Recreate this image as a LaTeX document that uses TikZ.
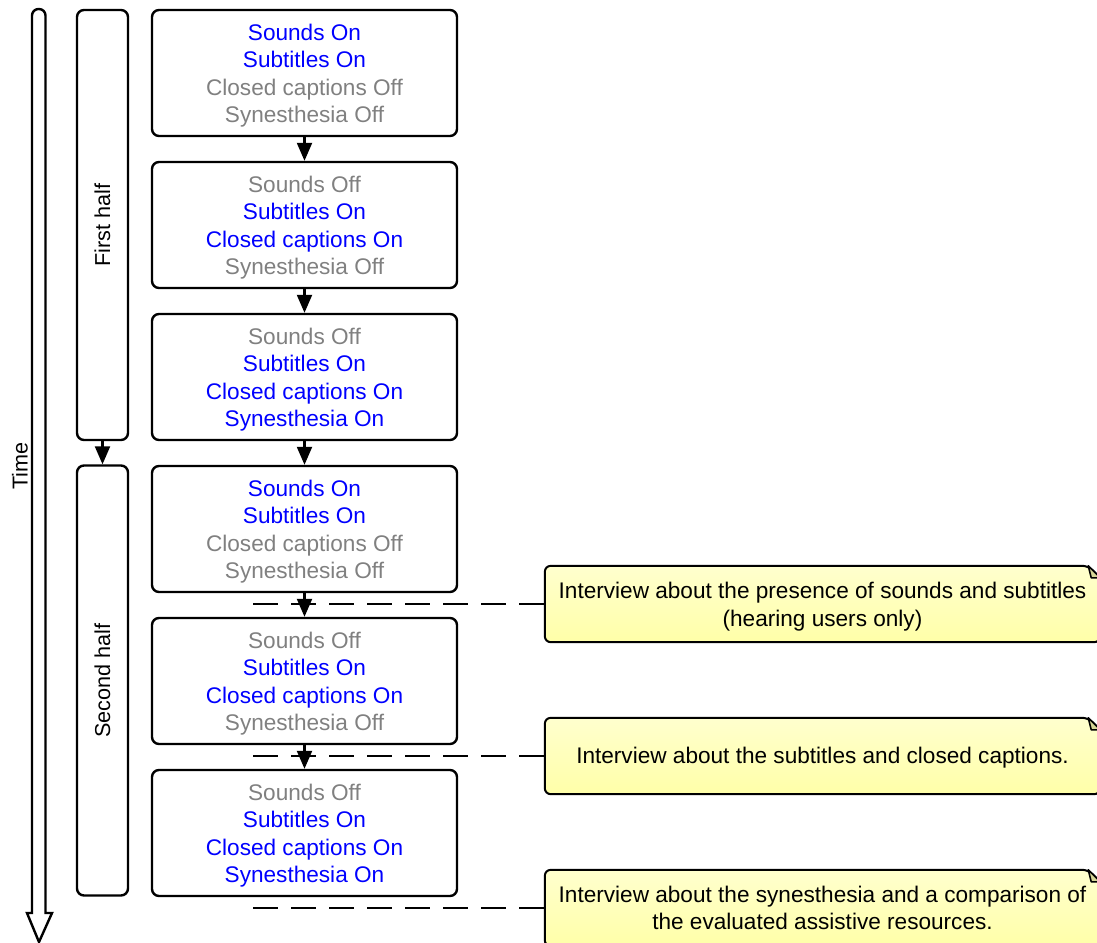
\documentclass[tikz,border=0pt]{standalone}
\usepackage{fontspec}
\setmainfont{Liberation Sans}
\usetikzlibrary{arrows.meta}
\definecolor{onc}{RGB}{0,0,255}
\definecolor{offc}{RGB}{128,128,128}
\definecolor{notetop}{RGB}{255,255,206}
\definecolor{notebot}{RGB}{255,255,168}
\definecolor{foldc}{RGB}{214,214,150}
\newcommand{\on}[1]{\textcolor{onc}{#1}}
\newcommand{\off}[1]{\textcolor{offc}{#1}}
\newcommand{\tstrut}{\rule{0pt}{21.5pt}}
\tikzset{
  boxline/.style={line width=2.4pt},
  mainbox/.style={boxline, draw, rounded corners=7pt, minimum width=305pt, minimum height=126pt, inner sep=0pt, align=center, font=\fontsize{22.6}{27.3}\selectfont},
  phasebox/.style={boxline, draw, rounded corners=7pt, minimum width=51pt, minimum height=430pt, inner sep=0pt},
  phaselabel/.style={rotate=90, font=\fontsize{21.6}{26}\selectfont},
  flow/.style={line width=2.2pt, -{Triangle[length=18pt,width=15pt]}},
  dashline/.style={line width=2.4pt, dash pattern=on 25pt off 13pt},
  notetext/.style={align=center, inner sep=0pt, minimum width=555pt, minimum height=76pt, font=\fontsize{22.6}{27.3}\selectfont},
}
\newcommand{\notebg}[1]{%
  \path[top color=notetop, bottom color=notebot, draw=black, line width=2pt, rounded corners=6pt]
    (#1.south west) -- (#1.north west) -- ([xshift=-12pt]#1.north east) [sharp corners] -- ([yshift=-12pt]#1.north east) [rounded corners=6pt] -- (#1.south east) -- cycle;
  \path[fill=foldc, draw=black, line width=1.6pt, line join=round]
    ([xshift=-12pt]#1.north east) -- ([xshift=-9pt,yshift=-12pt]#1.north east) -- ([yshift=-12pt]#1.north east) -- cycle;
}
\begin{document}
\begin{tikzpicture}[x=1pt,y=-1pt]
\useasboundingbox (0,0) rectangle (1097,942);
\clip (0,0) rectangle (1097,942);
% time arrow
\draw[boxline, fill=white, line join=miter]
  (32,913) [rounded corners=6.5pt] -- (32,9) -- (45.5,9) -- (45.5,100) [sharp corners] -- (45.5,913) -- (52,913) -- (39,942) -- (27,913) -- cycle;
\node[phaselabel] (time) at (20,466) {Time};

% phase boxes
\node[phasebox] (fh) at (102.5,225) {};
\node[phaselabel] (fhl) at (fh.center) {First half};
\node[phasebox] (sh) at (102.5,680.5) {};
\node[phaselabel] (shl) at (sh.center) {Second half};
\draw[flow] (fh.south) -- (sh.north);

% notes
\node[notetext] (n1) at (822.5,604) {};
\notebg{n1}
\node[notetext] (n1t) at (n1.center) {\tstrut Interview about the presence of sounds and subtitles\\(hearing users only)};
\node[notetext] (n2) at (822.5,756) {};
\notebg{n2}
\node[notetext] (n2t) at ([yshift=-1.5pt]n2.center) {Interview about the subtitles and closed captions.};
\node[notetext] (n3) at (822.5,908) {};
\notebg{n3}
\node[notetext] (n3t) at ([yshift=2.5pt]n3.center) {\tstrut Interview about the synesthesia and a comparison of\\the evaluated assistive resources.};

% dashed lines
\coordinate (d1) at (253,604);
\coordinate (d2) at (253,756);
\coordinate (d3) at (253,908);
\draw[dashline] (d1) -- (n1.west);
\draw[dashline] (d2) -- (n2.west);
\draw[dashline] (d3) -- (n3.west);

% main boxes
\node[mainbox] (b1) at (304.5,73) {\tstrut\on{Sounds On}\\\on{Subtitles On}\\\off{Closed captions Off}\\\off{Synesthesia Off}};
\node[mainbox] (b2) at (304.5,225) {\tstrut\off{Sounds Off}\\\on{Subtitles On}\\\on{Closed captions On}\\\off{Synesthesia Off}};
\node[mainbox] (b3) at (304.5,377) {\tstrut\off{Sounds Off}\\\on{Subtitles On}\\\on{Closed captions On}\\\on{Synesthesia On}};
\node[mainbox] (b4) at (304.5,529) {\tstrut\on{Sounds On}\\\on{Subtitles On}\\\off{Closed captions Off}\\\off{Synesthesia Off}};
\node[mainbox] (b5) at (304.5,681) {\tstrut\off{Sounds Off}\\\on{Subtitles On}\\\on{Closed captions On}\\\off{Synesthesia Off}};
\node[mainbox] (b6) at (304.5,833) {\tstrut\off{Sounds Off}\\\on{Subtitles On}\\\on{Closed captions On}\\\on{Synesthesia On}};
\draw[flow] (b1.south) -- (b2.north);
\draw[flow] (b2.south) -- (b3.north);
\draw[flow] (b3.south) -- (b4.north);
\draw[flow] (b4.south) -- (b5.north);
\draw[flow] (b5.south) -- (b6.north);
\end{tikzpicture}
\end{document}
